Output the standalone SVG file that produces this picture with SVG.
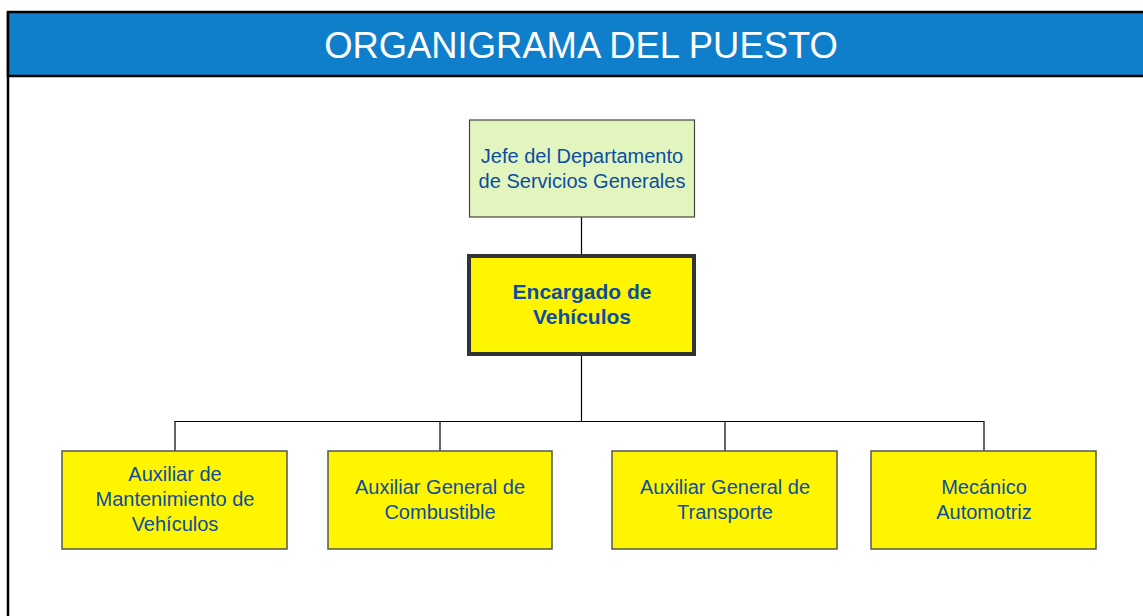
<svg xmlns="http://www.w3.org/2000/svg" width="1143" height="616" viewBox="0 0 1143 616">
<style>
.t{font-family:"Liberation Sans",Arial,sans-serif;font-size:20px;fill:#0B4DA2;text-anchor:middle}
.b{font-weight:bold;font-size:21px}
.box{fill:#FFF500;stroke:#555;stroke-width:1.5}
.ln{stroke:#000;stroke-width:1.2;fill:none}
</style>
<rect x="0" y="0" width="1143" height="616" fill="#fff"/>
<line x1="8" y1="12" x2="8" y2="616" stroke="#000" stroke-width="2.5"/>
<rect x="8" y="12" width="1140" height="64" fill="#0F7FCC" stroke="#000" stroke-width="2.5"/>
<text x="581" y="58" font-family="Liberation Sans,Arial,sans-serif" font-size="36.4" fill="#fff" text-anchor="middle">ORGANIGRAMA DEL PUESTO</text>
<g id="connectors">
<path class="ln" d="M581.5 217 V256 M581.5 354 V421 M175 451 V421.5 H984 V451 M440 421 V451 M725 421 V451"/>
</g>
<g id="jefe">
<rect x="469.5" y="120" width="225" height="97" fill="#E2F5BE" stroke="#444" stroke-width="1.2"/>
<text class="t" x="582" y="163">Jefe del Departamento</text>
<text class="t" x="582" y="188">de Servicios Generales</text>
</g>
<g id="encargado">
<rect x="469" y="256" width="225" height="98" fill="#FFF500" stroke="#333" stroke-width="4"/>
<text class="t b" x="582" y="299">Encargado de</text>
<text class="t b" x="582" y="324">Vehículos</text>
</g>
<g id="aux-mant">
<rect class="box" x="62" y="451" width="225" height="98"/>
<text class="t" x="175" y="481">Auxiliar de</text>
<text class="t" x="175" y="506">Mantenimiento de</text>
<text class="t" x="175" y="531">Vehículos</text>
</g>
<g id="aux-comb">
<rect class="box" x="328" y="451" width="224" height="98"/>
<text class="t" x="440" y="494">Auxiliar General de</text>
<text class="t" x="440" y="519">Combustible</text>
</g>
<g id="aux-trans">
<rect class="box" x="612" y="451" width="225" height="98"/>
<text class="t" x="725" y="494">Auxiliar General de</text>
<text class="t" x="725" y="519">Transporte</text>
</g>
<g id="mecanico">
<rect class="box" x="871" y="451" width="225" height="98"/>
<text class="t" x="984" y="494">Mecánico</text>
<text class="t" x="984" y="519">Automotriz</text>
</g>
</svg>
